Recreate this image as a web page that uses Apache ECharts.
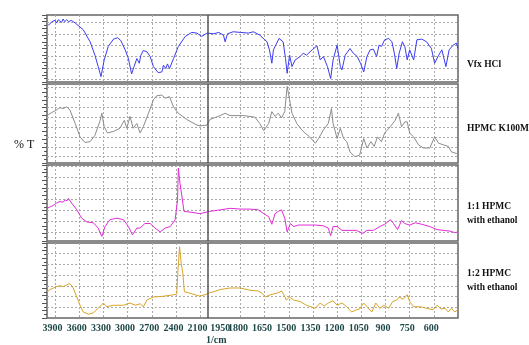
<!DOCTYPE html>
<html><head><meta charset="utf-8">
<script src="https://cdn.jsdelivr.net/npm/echarts@6/dist/echarts.min.js"></script>
<style>html,body{margin:0;padding:0;background:#fff}#c{width:529px;height:345px}</style>
</head><body><div id="c"></div>
<script>
// ---- data: [wavenumber (1/cm), %T (relative, 0-100 within its panel)] ----
const vfxHCl = [[3985,85],[3960,87],[3940,90],[3920,89],[3900,92],[3880,88],[3860,93],[3840,91],[3820,89],[3800,94],[3780,90],[3755,93],[3730,90],[3700,92],[3675,90],[3650,88],[3630,87],[3590,82],[3550,78],[3465,60],[3405,40],[3365,23],[3330,8],[3290,33],[3240,53],[3175,64],[3125,66],[3085,62],[3030,48],[2990,35],[2950,12],[2920,23],[2885,35],[2855,28],[2835,40],[2805,47],[2760,45],[2720,38],[2680,23],[2620,14],[2575,15],[2555,25],[2525,20],[2505,27],[2480,20],[2430,35],[2370,53],[2285,68],[2205,74],[2140,73],[2080,68],[2015,73],[1965,72],[1935,74],[1905,70],[1895,60],[1880,72],[1845,75],[1800,74],[1750,73],[1720,75],[1680,70],[1635,60],[1620,48],[1605,28],[1595,48],[1575,58],[1560,65],[1535,60],[1520,35],[1510,13],[1495,40],[1480,23],[1460,33],[1430,38],[1410,43],[1390,40],[1355,48],[1325,54],[1305,33],[1285,38],[1260,23],[1240,5],[1225,33],[1200,55],[1180,23],[1170,18],[1150,40],[1120,50],[1100,43],[1075,38],[1055,28],[1035,15],[1015,38],[995,48],[975,49],[955,38],[940,55],[925,53],[905,63],[880,65],[860,60],[845,43],[830,20],[815,43],[795,60],[780,53],[765,33],[750,48],[725,33],[705,63],[675,64],[645,60],[615,50],[595,28],[570,40],[550,48],[525,23],[505,48],[480,55],[460,58],[450,50]];
const hpmcK100M = [[3985,61],[3940,64],[3900,66],[3870,68],[3840,70],[3800,69],[3755,71],[3715,67],[3650,50],[3590,33],[3530,26],[3465,27],[3405,35],[3340,54],[3320,63],[3290,46],[3250,38],[3175,40],[3095,44],[3040,54],[3010,44],[2970,59],[2930,44],[2885,50],[2845,38],[2805,46],[2740,63],[2680,80],[2640,85],[2575,86],[2535,82],[2480,84],[2430,71],[2370,63],[2265,55],[2140,48],[2100,47],[2015,48],[1990,55],[1925,60],[1895,63],[1865,60],[1780,60],[1710,58],[1680,50],[1655,41],[1625,50],[1605,65],[1585,59],[1565,63],[1545,57],[1525,65],[1510,97],[1495,80],[1480,63],[1450,50],[1420,42],[1400,38],[1370,33],[1335,25],[1315,31],[1285,42],[1255,50],[1235,69],[1225,50],[1200,31],[1180,44],[1160,31],[1140,27],[1120,14],[1090,8],[1060,10],[1035,31],[1015,19],[990,27],[970,21],[950,33],[925,27],[905,38],[870,46],[840,54],[820,63],[800,46],[780,52],[765,52],[750,38],[725,33],[695,23],[665,19],[625,19],[595,33],[570,25],[540,23],[510,21],[490,14],[460,12],[450,14]];
const hpmc11 = [[4000,43],[3960,45],[3920,47],[3880,50],[3840,52],[3800,51],[3775,54],[3750,53],[3735,56],[3695,50],[3630,41],[3570,30],[3505,25],[3425,24],[3365,17],[3320,6],[3280,19],[3220,28],[3135,30],[3050,28],[2990,19],[2940,8],[2885,17],[2845,17],[2785,23],[2720,23],[2660,17],[2595,12],[2535,17],[2470,19],[2410,28],[2380,54],[2370,96],[2350,76],[2325,58],[2300,39],[2225,38],[2100,36],[1990,39],[1925,41],[1865,43],[1800,42],[1740,42],[1690,41],[1655,36],[1625,32],[1605,22],[1585,36],[1565,39],[1545,41],[1525,30],[1510,12],[1490,23],[1470,19],[1440,21],[1390,21],[1335,21],[1285,20],[1255,17],[1240,7],[1225,19],[1200,19],[1170,14],[1120,14],[1080,14],[1040,10],[1015,14],[975,14],[935,19],[905,22],[870,28],[850,23],[825,15],[800,27],[780,23],[750,21],[715,24],[675,22],[625,19],[580,15],[540,14],[500,13],[470,11],[450,12]];
const hpmc12 = [[4000,35],[3960,38],[3920,40],[3880,42],[3840,43],[3800,42],[3755,44],[3725,46],[3700,44],[3675,40],[3630,28],[3590,17],[3550,8],[3485,5],[3425,7],[3365,13],[3300,20],[3260,15],[3175,17],[3050,17],[2970,20],[2905,17],[2845,19],[2805,15],[2760,24],[2680,28],[2555,29],[2430,31],[2390,32],[2375,64],[2355,95],[2335,73],[2315,60],[2295,35],[2225,33],[2100,29],[2015,32],[1990,34],[1965,35],[1925,38],[1865,40],[1800,40],[1740,37],[1690,36],[1665,33],[1645,28],[1615,31],[1575,33],[1545,36],[1535,33],[1515,24],[1495,28],[1470,24],[1430,22],[1390,17],[1335,13],[1305,20],[1280,16],[1255,20],[1225,23],[1200,17],[1170,20],[1140,15],[1110,8],[1080,11],[1060,12],[1035,20],[1015,15],[985,8],[960,20],[935,13],[910,17],[880,13],[855,22],[830,24],[815,28],[790,25],[765,31],[750,22],[725,15],[685,15],[645,13],[605,11],[580,17],[555,12],[530,13],[510,8],[490,13],[470,8],[450,11]];

const seriesNames = ['Vfx HCl', 'HPMC K100M', '1:1 HPMC\nwith ethanol', '1:2 HPMC\nwith ethanol'];
const seriesData = [vfxHCl, hpmcK100M, hpmc11, hpmc12];
const xTickLabels = [3900,3600,3300,3000,2700,2400,2100,1950,1800,1650,1500,1350,1200,1050,900,750,600];
const xGridLines = [3900,3600,3300,3000,2700,2400,2100,1800,1650,1500,1350,1200,1050,900,750,600];
const xStart = 4000, xBreak = 2000, xEnd = 450;
const yGridLines = [
  [4,21,38,55,72,89],
  [8,20.5,33,45.5,58,70.5,83,95.5],
  [12,26.3,40.6,54.9,69.2,83.5,97.8],
  [14.3,28.6,42.9,57.2,71.5,85.8]
];

// ---- broken wavenumber scale: right of 2000 1/cm is drawn at twice the scale ----
function toU(w) { return w >= xBreak ? xStart - w : (xStart - xBreak) + 2 * (xBreak - w); }
function fromU(u) { return u <= (xStart - xBreak) ? xStart - u : xBreak - (u - (xStart - xBreak)) / 2; }

// ---- layout / style ----
const panels = [
  { top: 15, height: 67, color: '#3b3bf2', labelY: 58 },
  { top: 84, height: 79, color: '#8c8c8c', labelY: 122 },
  { top: 165, height: 76, color: '#e02cd6', labelY: 200 },
  { top: 243, height: 75, color: '#d8a428', labelY: 267 }
];
const plotLeft = 47, plotWidth = 411;
const serif = 'Liberation Serif';
const tickColor = '#1f4848';

const grids = [], xAxes = [], yAxes = [], series = [], graphics = [];
panels.forEach((p, i) => {
  grids.push({ left: plotLeft, width: plotWidth, top: p.top, height: p.height, show: true,
    borderColor: '#666', borderWidth: 1.5, backgroundColor: 'transparent', outerBoundsMode: 'none', containLabel: false });
  xAxes.push({
    gridIndex: i, type: 'value', min: toU(xStart), max: toU(xEnd),
    axisLine: { show: false },
    axisTick: { show: false, customValues: xGridLines.map(toU) },
    splitLine: { show: true, lineStyle: { color: '#a8a8a8', type: [2, 2], width: 1 } },
    axisLabel: i === panels.length - 1 ? {
      show: true, customValues: xTickLabels.map(toU), hideOverlap: false,
      color: tickColor, fontFamily: serif, fontWeight: 'bold', fontSize: 10, margin: 5,
      formatter: v => { const w = Math.round(fromU(v)); return w === 1950 ? '{b|' + w + '}' : '{a|' + w + '}'; },
      rich: {
        a: { padding: [0, 5, 0, 0], color: tickColor, fontFamily: serif, fontWeight: 'bold', fontSize: 10 },
        b: { padding: [0, 0, 0, 8], color: tickColor, fontFamily: serif, fontWeight: 'bold', fontSize: 10 }
      }
    } : { show: false }
  });
  yAxes.push({
    gridIndex: i, type: 'value', min: 0, max: 100, interval: 10, position: 'left',
    axisLine: { show: false }, axisLabel: { show: false }, splitLine: { show: false },
    axisTick: { show: true, length: 5, lineStyle: { color: '#555', width: 1 } },
    minorTick: { show: true, splitNumber: 2, length: 3, lineStyle: { color: '#555', width: 1 } }
  });
  yAxes.push({
    gridIndex: i, type: 'value', min: 0, max: 100, position: 'left',
    axisLine: { show: false }, axisLabel: { show: false },
    axisTick: { show: false, customValues: yGridLines[i] },
    splitLine: { show: true, lineStyle: { color: '#a8a8a8', type: [2, 2], width: 1 } }
  });
  series.push({
    name: seriesNames[i], type: 'line', xAxisIndex: i, yAxisIndex: 2 * i,
    data: seriesData[i].map(d => [toU(d[0]), d[1]]),
    showSymbol: false, symbol: 'none', lineStyle: { color: p.color, width: 1 }, itemStyle: { color: p.color },
    markLine: { silent: true, symbol: 'none', label: { show: false }, animation: false,
      lineStyle: { color: '#555', type: 'solid', width: 1.5 }, data: [{ xAxis: toU(xBreak) }] }
  });
  graphics.push({ type: 'text', left: 467, top: p.labelY, silent: true,
    style: { text: seriesNames[i], fill: '#111', font: 'bold 9.5px "' + serif + '"', lineHeight: 14, textVerticalAlign: 'middle', verticalAlign: 'middle' } });
});
graphics.push({ type: 'text', left: 14, top: 139, silent: true,
  style: { text: '% T', fill: '#111', font: '12px "' + serif + '"' } });
graphics.push({ type: 'text', left: 206, top: 335, silent: true,
  style: { text: '1/cm', fill: tickColor, font: 'bold 10px "' + serif + '"' } });

const chart = echarts.init(document.getElementById('c'), null, { renderer: 'canvas' });
chart.setOption({
  animation: false, backgroundColor: '#fff',
  grid: grids, xAxis: xAxes, yAxis: yAxes, series: series, graphic: graphics
});
</script>
</body></html>
